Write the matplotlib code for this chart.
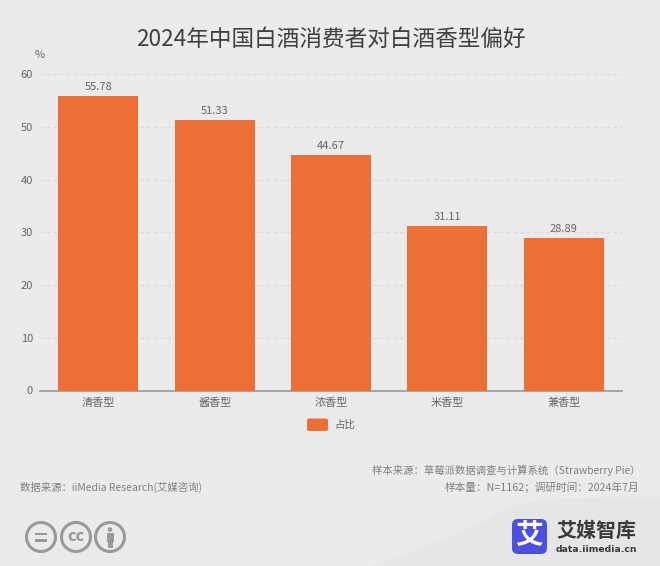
import matplotlib
matplotlib.use('Agg')
import matplotlib.pyplot as plt
from matplotlib.patches import Circle, FancyBboxPatch, PathPatch, Rectangle
from matplotlib.path import Path

plt.rcParams['font.family'] = ['Noto Sans CJK SC', 'DejaVu Sans']

categories = ['清香型', '酱香型', '浓香型', '米香型', '兼香型']
values = [55.78, 51.33, 44.67, 31.11, 28.89]
value_labels = ['55.78', '51.33', '44.67', '31.11', '28.89']
y_ticks = [0, 10, 20, 30, 40, 50, 60]

bg = '#ebebeb'
orange = '#ee6f35'
grey = '#666666'

W, H = 660, 566
fig = plt.figure(figsize=(W / 100, H / 100), dpi=100, facecolor=bg)

# overlay in pixel coordinates for the footer decoration
deco = fig.add_axes([0, 0, 1, 1], zorder=0)
deco.set_xlim(0, W)
deco.set_ylim(H, 0)
deco.axis('off')

# plot area: left 40, right 622, y=0 at 390.5, y=60 at 74
ax = fig.add_axes([40 / W, 1 - 390.5 / H, 582 / W, 316.5 / H], zorder=1)
ax.patch.set_alpha(0)
ax.bar(range(5), values, width=0.687, color=orange, zorder=3)
ax.set_xlim(-0.5, 4.5)
ax.set_ylim(0, 60)
ax.set_yticks(y_ticks)
ax.set_xticks(range(5))
ax.set_xticklabels(categories)
ax.tick_params(axis='both', length=0, labelsize=8, labelcolor=grey)
ax.tick_params(axis='x', pad=5)
ax.tick_params(axis='y', pad=5)
ax.grid(axis='y', color='#d8d8d8', linestyle=(0, (3, 3)), linewidth=0.8, zorder=0)
for side in ['top', 'right', 'left']:
    ax.spines[side].set_visible(False)
ax.spines['bottom'].set_color('#999999')
ax.spines['bottom'].set_linewidth(1.2)
for i, v in enumerate(values):
    ax.annotate(value_labels[i], (i, v), xytext=(0, 3), textcoords='offset points',
                ha='center', va='bottom', fontsize=8, color=grey)

deco.text(331, 39.5, '2024年中国白酒消费者对白酒香型偏好', ha='center', va='center',
          fontsize=16.3, color='#404040')
deco.text(40, 55, '%', ha='center', va='center', fontsize=8, color=grey)

# legend
deco.add_patch(FancyBboxPatch((307, 418.5), 21, 12.5, boxstyle='round,pad=0,rounding_size=2',
                              fc=orange, ec='none'))
deco.text(334, 424.5, '占比', ha='left', va='center', fontsize=7.5, color=grey)

# footer texts
deco.text(20, 487, '数据来源：iiMedia Research(艾媒咨询)', ha='left', va='center',
          fontsize=7.5, color='#808080')
deco.text(640, 470, '样本来源：草莓派数据调查与计算系统（Strawberry Pie）', ha='right', va='center',
          fontsize=7.45, color='#808080')
deco.text(639, 487, '样本量：N=1162；调研时间：2024年7月', ha='right', va='center',
          fontsize=7.7, color='#808080')

# darker swoosh in the lower right corner, faint on the left
verts = [(370, 566), (420, 550), (470, 530), (495, 515), (520, 498), (560, 497), (660, 497),
         (660, 566), (370, 566)]
codes = [Path.MOVETO, Path.CURVE4, Path.CURVE4, Path.CURVE4, Path.CURVE4, Path.CURVE4, Path.CURVE4,
         Path.LINETO, Path.CLOSEPOLY]
deco.add_patch(PathPatch(Path(verts, codes), fc='#e6e6e6', ec='none'))

# cc icons
icon = '#999999'
for cx in [41, 76, 110]:
    deco.add_patch(Circle((cx, 537), 14.5, fc='none', ec=icon, lw=2.2))
deco.add_patch(Rectangle((35, 532.5), 12, 2.6, fc=icon, ec='none'))
deco.add_patch(Rectangle((35, 539), 12, 2.6, fc=icon, ec='none'))
deco.text(76, 536.5, 'cc', ha='center', va='center', fontsize=10.5, fontweight='bold',
          color=icon, family='DejaVu Sans')
deco.add_patch(Circle((110, 529.5), 2.3, fc=icon, ec='none'))
deco.add_patch(Rectangle((106.5, 533), 7, 8.5, fc=icon, ec='none'))
deco.add_patch(Rectangle((107.5, 541), 5, 7, fc=icon, ec='none'))

# logo
deco.add_patch(FancyBboxPatch((512, 519), 35, 35, boxstyle='round,pad=0,rounding_size=6',
                              fc='#4c50e0', ec='none'))
deco.text(529.5, 535.5, '艾', ha='center', va='center', fontsize=20, fontweight='bold', color='white')
deco.text(556, 530.5, '艾媒智库', ha='left', va='center', fontsize=14.4, fontweight='bold',
          color='#3a3a3a')
deco.text(556, 549, 'data.iimedia.cn', ha='left', va='center', fontsize=6.7, fontweight='bold',
          color='#3a3a3a', family='DejaVu Sans')

fig.savefig('out.png', dpi=100, facecolor=bg)
